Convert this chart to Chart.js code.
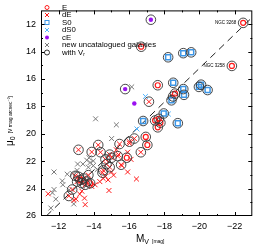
<!DOCTYPE html>
<html><head><meta charset="utf-8">
<script src="https://cdn.jsdelivr.net/npm/chart.js@4/dist/chart.umd.min.js"></script>
<style>html,body{margin:0;padding:0;background:#fff;}#wrap{width:258px;height:246px;}</style>
</head><body><div id="wrap"><canvas id="c" width="258" height="246"></canvas></div>
<script>
// ---- data: [M_V, mu_0] ----
const E_Vr = [[-22.48,11.91],[-21.84,15.05],[-16.69,13.65],[-17.63,16.46],[-18.61,17.07],[-17.48,19.03],[-17.69,18.91],[-17.78,19.19],[-17.63,19.53],[-16.95,20.23],[-17.04,20.82],[-15.87,21.75],[-13.79,23.61],[-13.23,23.37]];
const dE_Vr = [[-17.13,17.66],[-18.50,17.28],[-16.30,20.35],[-16.02,20.58],[-16.67,21.35],[-15.46,20.75],[-14.25,20.82],[-13.13,21.17],[-13.88,21.33],[-14.38,21.35],[-14.90,21.52],[-15.00,21.75],[-14.66,21.87],[-15.36,21.63],[-15.55,22.26],[-14.72,22.21],[-14.90,22.44],[-14.53,22.67],[-14.49,22.84],[-12.95,23.07],[-13.13,23.14],[-13.41,23.26],[-13.60,23.49],[-13.69,23.02],[-13.32,23.61],[-13.51,23.72],[-13.05,23.49],[-12.77,24.07],[-12.58,24.54]];
const dE = [[-15.92,21.35],[-15.28,21.17],[-16.11,21.87],[-15.92,22.79],[-16.42,23.30],[-14.86,24.14],[-14.34,23.49],[-14.07,23.72],[-13.88,23.84],[-14.81,23.37],[-14.53,23.26],[-15.00,22.79],[-11.41,24.38],[-13.47,24.70],[-13.51,25.17],[-12.86,24.84],[-13.32,24.19],[-16.03,20.70],[-15.12,23.02],[-12.99,24.77],[-15.40,21.52],[-15.59,22.33],[-14.66,23.10],[-13.20,24.40]];
const S0_Vr = [[-19.08,14.12],[-19.53,14.06],[-18.22,14.42],[-18.51,16.28],[-19.08,16.74],[-19.12,17.16],[-19.97,16.58],[-20.09,16.42],[-20.46,16.81],[-18.41,17.56],[-17.97,18.52],[-16.80,19.07],[-18.77,19.23]];
const dS0 = [[-16.93,17.28],[-16.45,19.65],[-18.23,18.56]];
const cE_Vr = [[-17.24,11.68],[-15.78,16.74]];
const cE = [[-16.30,17.79]];
const newGal = [[-16.15,16.58],[-14.10,18.91],[-15.28,19.35],[-15.01,20.35],[-13.38,22.21],[-13.60,21.93],[-13.79,22.10],[-13.97,21.98],[-13.69,22.44],[-13.97,22.33],[-13.73,21.75],[-13.08,22.21],[-13.05,22.67],[-12.49,22.95],[-12.80,22.91],[-11.74,22.79],[-12.21,23.44],[-12.24,23.72],[-11.74,24.07],[-11.65,24.31],[-11.84,24.77],[-11.56,25.42],[-12.86,25.12],[-14.20,22.60],[-12.60,24.10]];
const fitLine = [[-11.3,26.0],[-23.0,11.5]];
const namedGal = [{name:'NGC 3268', x:-22.48, y:11.91},{name:'NGC 3258', x:-21.84, y:15.05}];
const legendLabels = ['E','dE','S0','dS0','cE','new uncatalogued galaxies','with V'];
const xRange = [-11, -23];
const yRange = [11, 26];

const FONT = '"Liberation Sans", Arial, Helvetica, sans-serif';
const RED = '#ff1a1a', BLUE = '#3d96e6', LBLUE = '#4fb3ff', PURPLE = '#9a10f0', GRAY = '#7a7a7a';
const pts = a => a.map(p => ({x:p[0], y:p[1]}));
const withVr = [].concat(E_Vr, dE_Vr, S0_Vr, cE_Vr);

function sc(label, arr, style, color, r, bw, fill, order){
  return {type:'scatter', label, data: pts(arr), pointStyle: style, pointRadius: r, pointHoverRadius: r,
    borderColor: color, backgroundColor: fill || 'rgba(0,0,0,0)', pointBorderWidth: bw, borderWidth: bw, order};
}

const decor = {
  id:'decor',
  afterDraw(chart){
    const ctx = chart.ctx, a = chart.chartArea, xs = chart.scales.x, ys = chart.scales.y;
    ctx.save();
    // frame
    ctx.strokeStyle = '#000'; ctx.lineWidth = 1;
    ctx.strokeRect(a.left + 0.5, a.top + 0.5, a.right - a.left - 1, a.bottom - a.top - 1);
    // inward ticks
    ctx.beginPath();
    for (let v = -12; v >= -22; v--) {
      const px = Math.round(xs.getPixelForValue(v)) + 0.5, L = (v % 2 === 0) ? 4 : 2;
      ctx.moveTo(px, a.bottom); ctx.lineTo(px, a.bottom - L);
      ctx.moveTo(px, a.top); ctx.lineTo(px, a.top + L);
    }
    for (let v = 12; v <= 25; v++) {
      const py = Math.round(ys.getPixelForValue(v)) + 0.5, L = (v % 2 === 0) ? 4 : 2;
      ctx.moveTo(a.left, py); ctx.lineTo(a.left + L, py);
      ctx.moveTo(a.right, py); ctx.lineTo(a.right - L, py);
    }
    ctx.stroke();
    // legend
    const lx = 47, tx = 62, y0 = 7.5, dy = 7.5;
    ctx.textBaseline = 'middle'; ctx.textAlign = 'left'; ctx.fillStyle = '#000';
    legendLabels.forEach((t, i) => {
      const y = y0 + i * dy;
      ctx.lineWidth = 1;
      if (i === 0) { ctx.strokeStyle = RED; ctx.beginPath(); ctx.arc(lx, y, 2, 0, 2*Math.PI); ctx.stroke(); }
      if (i === 1 || i === 3 || i === 5) {
        ctx.strokeStyle = i === 1 ? RED : (i === 3 ? LBLUE : GRAY);
        ctx.beginPath(); ctx.moveTo(lx-2, y-2); ctx.lineTo(lx+2, y+2); ctx.moveTo(lx-2, y+2); ctx.lineTo(lx+2, y-2); ctx.stroke();
      }
      if (i === 2) { ctx.strokeStyle = BLUE; ctx.strokeRect(lx-2, y-2, 4, 4); }
      if (i === 4) { ctx.fillStyle = PURPLE; ctx.beginPath(); ctx.arc(lx, y, 2, 0, 2*Math.PI); ctx.fill(); }
      if (i === 6) { ctx.strokeStyle = '#333'; ctx.beginPath(); ctx.arc(lx, y, 2.5, 0, 2*Math.PI); ctx.stroke(); }
      ctx.fillStyle = '#000';
      ctx.font = '7.8px ' + FONT;
      ctx.fillText(t, tx, y);
      if (i === 6) { const w = ctx.measureText(t).width; ctx.font = '5px ' + FONT; ctx.fillText('r', tx + w, y + 2); }
    });
    // galaxy names
    ctx.font = '4.5px ' + FONT; ctx.textAlign = 'right'; ctx.textBaseline = 'middle'; ctx.fillStyle = '#000';
    namedGal.forEach(g => ctx.fillText(g.name, xs.getPixelForValue(g.x) - 7, ys.getPixelForValue(g.y)));
    // x title
    ctx.textAlign = 'left'; ctx.textBaseline = 'alphabetic';
    ctx.font = '10px ' + FONT; ctx.fillText('M', 136, 242);
    let w = ctx.measureText('M').width;
    ctx.font = '7px ' + FONT; ctx.fillText('V', 136 + w, 244);
    let w2 = ctx.measureText('V').width;
    ctx.font = '5px ' + FONT; ctx.fillText('[mag]', 136 + w + w2 + 3, 243);
    // y title (rotated)
    ctx.translate(13, 146); ctx.rotate(-Math.PI/2);
    let cx = 0;
    ctx.font = '10px ' + FONT; ctx.fillText('\u03bc', cx, 0); cx += ctx.measureText('\u03bc').width;
    ctx.font = '7px ' + FONT; ctx.fillText('0', cx, 2); cx += ctx.measureText('0').width + 3;
    ctx.font = '5px ' + FONT; ctx.fillText('[V mag arcsec', cx, -1); cx += ctx.measureText('[V mag arcsec').width;
    ctx.font = '3.5px ' + FONT; ctx.fillText('\u22122', cx, -3); cx += ctx.measureText('\u22122').width;
    ctx.font = '5px ' + FONT; ctx.fillText(']', cx, -1);
    ctx.restore();
  }
};

const tickFont = {family: FONT, size: 9};
new Chart(document.getElementById('c'), {
  data: {
    datasets: [
      {type:'line', label:'fit', data: pts(fitLine), borderColor:'#222', borderWidth:1, borderDash:[7,5], pointRadius:0, fill:false, order:20},
      sc('new uncatalogued galaxies', newGal, 'crossRot', GRAY, 3.5, 1, null, 9),
      sc('dE', dE, 'crossRot', RED, 3.5, 1, null, 8),
      sc('dE with Vr', dE_Vr, 'crossRot', RED, 3.5, 1, null, 7),
      sc('E', E_Vr, 'circle', RED, 2.5, 1.2, null, 6),
      sc('S0', S0_Vr, 'rect', BLUE, 3.5, 1.5, null, 5),
      sc('dS0', dS0, 'crossRot', LBLUE, 3.5, 1, null, 4),
      sc('cE', cE, 'circle', PURPLE, 2.2, 0, PURPLE, 3),
      sc('cE with Vr', cE_Vr, 'circle', PURPLE, 2.2, 0, PURPLE, 2),
      sc('with Vr', withVr, 'circle', '#333', 4.8, 0.9, null, 1)
    ]
  },
  options: {
    responsive: false, animation: false, events: [],
    layout: {padding: {left: 0, right: 1, top: 1, bottom: 0}},
    plugins: {legend: {display: false}, tooltip: {enabled: false}},
    scales: {
      x: {type:'linear', min: xRange[1], max: xRange[0], reverse: true,
        grid: {display: false, drawTicks: false}, border: {display: false},
        afterFit: s => { s.height = 30; },
        ticks: {stepSize: 1, autoSkip: false, maxRotation: 0, padding: 5, color: '#000', font: tickFont,
          callback: v => (v % 2 === 0 ? '\u2212' + Math.abs(v) : '')}},
      y: {type:'linear', min: yRange[0], max: yRange[1], reverse: true,
        grid: {display: false, drawTicks: false}, border: {display: false},
        afterFit: s => { s.width = 41; },
        ticks: {stepSize: 1, autoSkip: false, padding: 5, color: '#000', font: tickFont,
          callback: v => (v % 2 === 0 && v > 11 ? String(v) : '')}}
    }
  },
  plugins: [decor]
});
</script></body></html>
